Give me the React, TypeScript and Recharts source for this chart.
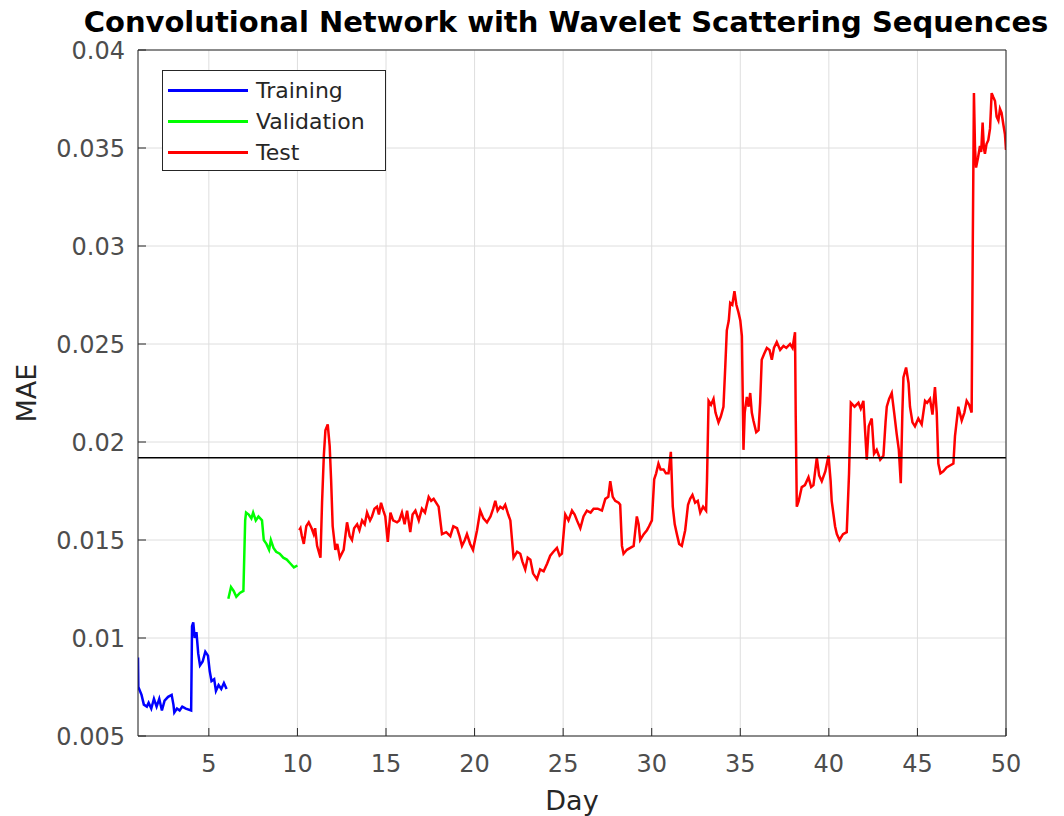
import { LineChart, Line, XAxis, YAxis, CartesianGrid, ReferenceLine, Label } from 'recharts';

// [day, MAE] pairs
const training: [number, number][] = [
  [1.0, 0.009], [1.02, 0.0075], [1.2, 0.0071], [1.33, 0.0066], [1.5, 0.0065], [1.6, 0.0067],
  [1.75, 0.0064], [1.9, 0.0069], [2.05, 0.0065], [2.2, 0.0069], [2.35, 0.0063], [2.5, 0.0068],
  [2.7, 0.007], [2.9, 0.0071], [3.0, 0.0066], [3.05, 0.0062], [3.2, 0.0064], [3.35, 0.0063],
  [3.5, 0.0065], [3.7, 0.0064], [4.0, 0.0063], [4.05, 0.0106], [4.12, 0.0108], [4.2, 0.01],
  [4.3, 0.0103], [4.4, 0.0092], [4.5, 0.0086], [4.65, 0.0088], [4.8, 0.0093], [4.95, 0.0091],
  [5.05, 0.0083], [5.15, 0.0078], [5.3, 0.0079], [5.4, 0.0073], [5.55, 0.0076], [5.7, 0.0074],
  [5.85, 0.0077], [6.0, 0.0074],
];

const validation: [number, number][] = [
  [6.1, 0.012], [6.25, 0.0126], [6.4, 0.0124], [6.55, 0.0121], [6.75, 0.0123], [6.95, 0.0124],
  [7.05, 0.016], [7.1, 0.0164], [7.25, 0.0163], [7.4, 0.0161], [7.5, 0.0164], [7.65, 0.016],
  [7.8, 0.0162], [8.0, 0.016], [8.1, 0.015], [8.25, 0.0148], [8.4, 0.0145], [8.5, 0.015],
  [8.65, 0.0146], [8.8, 0.0144], [9.0, 0.0143], [9.2, 0.0141], [9.4, 0.014], [9.6, 0.0138],
  [9.8, 0.0136], [10.0, 0.0137],
];

const test: [number, number][] = [
  [10.1, 0.0155], [10.17, 0.0156], [10.25, 0.0152], [10.36, 0.0148], [10.5, 0.0157], [10.64, 0.0159],
  [10.8, 0.0156], [10.92, 0.0153], [11.0, 0.0156], [11.11, 0.0147], [11.3, 0.0141], [11.39, 0.0169],
  [11.49, 0.0193], [11.58, 0.0206], [11.71, 0.0209], [11.82, 0.0198], [11.9, 0.0181], [11.99, 0.0157],
  [12.14, 0.0145], [12.25, 0.0148], [12.39, 0.0141], [12.61, 0.0145], [12.8, 0.0159], [12.95, 0.0152],
  [13.08, 0.015], [13.2, 0.0156], [13.37, 0.0158], [13.5, 0.0155], [13.65, 0.016], [13.8, 0.0158],
  [13.93, 0.0164], [14.1, 0.016], [14.21, 0.0162], [14.35, 0.0166], [14.49, 0.0167], [14.6, 0.0163],
  [14.72, 0.0169], [14.85, 0.0165], [14.96, 0.0162], [15.1, 0.0149], [15.25, 0.0164], [15.4, 0.016],
  [15.62, 0.0159], [15.75, 0.016], [15.9, 0.0164], [16.05, 0.0158], [16.19, 0.0165], [16.37, 0.0154],
  [16.5, 0.0163], [16.66, 0.0165], [16.85, 0.016], [17.03, 0.0166], [17.2, 0.0164], [17.41, 0.0172],
  [17.55, 0.017], [17.69, 0.0171], [17.97, 0.0167], [18.16, 0.0153], [18.4, 0.0154], [18.63, 0.0152],
  [18.8, 0.0157], [19.01, 0.0156], [19.15, 0.0152], [19.29, 0.0147], [19.45, 0.015], [19.57, 0.0153],
  [19.75, 0.0148], [19.91, 0.0145], [20.14, 0.0155], [20.32, 0.0165], [20.5, 0.0161], [20.7, 0.0159],
  [20.9, 0.0162], [21.05, 0.0166], [21.17, 0.017], [21.3, 0.0165], [21.45, 0.0167], [21.6, 0.0166],
  [21.73, 0.0168], [21.9, 0.0163], [22.02, 0.016], [22.2, 0.0141], [22.4, 0.0144], [22.58, 0.0143],
  [22.7, 0.0139], [22.86, 0.0135], [23.0, 0.0141], [23.15, 0.014], [23.3, 0.0133], [23.52, 0.013],
  [23.7, 0.0135], [23.9, 0.0134], [24.1, 0.0138], [24.27, 0.0142], [24.45, 0.0144], [24.65, 0.0146],
  [24.8, 0.0142], [24.93, 0.0143], [25.12, 0.0163], [25.3, 0.016], [25.5, 0.0165], [25.65, 0.0163],
  [25.78, 0.016], [25.97, 0.0156], [26.15, 0.0162], [26.34, 0.0165], [26.55, 0.0164], [26.72, 0.0166],
  [26.95, 0.0166], [27.19, 0.0165], [27.38, 0.0171], [27.55, 0.0172], [27.66, 0.018], [27.8, 0.0172],
  [27.94, 0.017], [28.13, 0.0169], [28.22, 0.0168], [28.32, 0.0147], [28.41, 0.0143], [28.6, 0.0145],
  [28.79, 0.0146], [28.98, 0.0147], [29.16, 0.0162], [29.26, 0.0158], [29.35, 0.015], [29.55, 0.0153],
  [29.73, 0.0155], [29.85, 0.0157], [30.01, 0.016], [30.14, 0.0181], [30.25, 0.0184], [30.38, 0.0189],
  [30.5, 0.0186], [30.67, 0.0186], [30.8, 0.0184], [30.95, 0.0184], [31.08, 0.0195], [31.19, 0.0167],
  [31.3, 0.0158], [31.42, 0.0153], [31.55, 0.0148], [31.7, 0.0147], [31.89, 0.0155], [32.05, 0.0168],
  [32.17, 0.0171], [32.3, 0.0173], [32.45, 0.0169], [32.6, 0.017], [32.74, 0.0164], [32.9, 0.0167],
  [33.07, 0.0165], [33.12, 0.018], [33.21, 0.0221], [33.35, 0.0219], [33.49, 0.0222], [33.6, 0.0215],
  [33.77, 0.021], [33.9, 0.0213], [34.05, 0.0218], [34.15, 0.0238], [34.24, 0.0257], [34.35, 0.0262],
  [34.43, 0.0271], [34.55, 0.027], [34.67, 0.0277], [34.78, 0.027], [34.9, 0.0266], [35.0, 0.0262],
  [35.09, 0.0254], [35.18, 0.0196], [35.25, 0.0215], [35.37, 0.0223], [35.47, 0.0218], [35.56, 0.0225],
  [35.65, 0.0215], [35.74, 0.0211], [35.9, 0.0205], [36.03, 0.0206], [36.12, 0.022], [36.21, 0.0242],
  [36.35, 0.0245], [36.5, 0.0248], [36.65, 0.0247], [36.78, 0.0242], [36.9, 0.0248], [37.06, 0.0251],
  [37.25, 0.0247], [37.44, 0.0249], [37.6, 0.0248], [37.81, 0.025], [37.95, 0.0248], [38.09, 0.0256],
  [38.13, 0.0213], [38.19, 0.0167], [38.3, 0.017], [38.47, 0.0177], [38.65, 0.0178], [38.85, 0.0182],
  [39.0, 0.0177], [39.13, 0.0178], [39.32, 0.0192], [39.45, 0.0183], [39.6, 0.018], [39.8, 0.0185],
  [39.98, 0.0193], [40.1, 0.018], [40.16, 0.017], [40.35, 0.0157], [40.45, 0.0153], [40.6, 0.015],
  [40.8, 0.0153], [41.01, 0.0154], [41.14, 0.0184], [41.24, 0.022], [41.45, 0.0218], [41.67, 0.022],
  [41.8, 0.0217], [41.95, 0.0221], [42.05, 0.0205], [42.14, 0.0191], [42.25, 0.0208], [42.42, 0.0212],
  [42.55, 0.0194], [42.7, 0.0196], [42.9, 0.0191], [43.08, 0.0193], [43.2, 0.021], [43.27, 0.0218],
  [43.4, 0.0222], [43.55, 0.0225], [43.7, 0.0214], [43.83, 0.0204], [43.95, 0.0196], [44.06, 0.0179],
  [44.15, 0.0215], [44.21, 0.0233], [44.36, 0.0238], [44.5, 0.023], [44.58, 0.0218], [44.72, 0.021],
  [44.86, 0.0208], [45.05, 0.0212], [45.24, 0.0209], [45.43, 0.0221], [45.55, 0.022], [45.71, 0.0222],
  [45.85, 0.0214], [45.99, 0.0228], [46.09, 0.0215], [46.18, 0.0189], [46.3, 0.0184], [46.46, 0.0185],
  [46.65, 0.0187], [46.84, 0.0188], [47.03, 0.0189], [47.12, 0.0203], [47.31, 0.0218], [47.5, 0.0211],
  [47.65, 0.0215], [47.78, 0.0221], [47.92, 0.0219], [48.06, 0.0215], [48.12, 0.0295], [48.19, 0.0378],
  [48.25, 0.035], [48.31, 0.034], [48.42, 0.0345], [48.53, 0.0351], [48.6, 0.0348], [48.68, 0.0363],
  [48.75, 0.035], [48.81, 0.0347], [48.9, 0.0352], [49.0, 0.0354], [49.1, 0.036], [49.19, 0.0378],
  [49.28, 0.0376], [49.38, 0.0374], [49.47, 0.0366], [49.57, 0.0364], [49.66, 0.037], [49.75, 0.0368],
  [49.85, 0.0362], [49.94, 0.0357], [50.0, 0.0349],
];

const threshold = 0.0192;
const xTicks = [5, 10, 15, 20, 25, 30, 35, 40, 45, 50];
const yTicks = [0.005, 0.01, 0.015, 0.02, 0.025, 0.03, 0.035, 0.04];
const yTickLabels = ['0.005', '0.01', '0.015', '0.02', '0.025', '0.03', '0.035', '0.04'];

const series = [
  { name: 'Training', color: '#0000ff', points: training },
  { name: 'Validation', color: '#00ff00', points: validation },
  { name: 'Test', color: '#ff0000', points: test },
];

const font = '"DejaVu Sans", sans-serif';
const axisColor = '#262626';
const tickStyle = { fill: '#4d4d4d', fontSize: 24, fontFamily: font };

const toRows = (pts: [number, number][]) => pts.map(([day, mae]) => ({ day, mae }));

function LegendBox() {
  return (
    <div
      style={{
        position: 'absolute',
        left: 162,
        top: 70,
        zIndex: 2,
        border: '1.5px solid #262626',
        background: '#fff',
        width: 222,
        padding: '4px 0 2px 0',
        fontFamily: font,
        fontSize: 22,
        color: '#262626',
      }}
    >
      {series.map((s) => (
        <div key={s.name} style={{ display: 'flex', alignItems: 'center', height: 31 }}>
          <div style={{ width: 80, height: 3, background: s.color, marginLeft: 5, marginRight: 8 }} />
          <span>{s.name}</span>
        </div>
      ))}
    </div>
  );
}

export default function App() {
  return (
    <div style={{ position: 'absolute', left: 0, top: 0, width: 1064, height: 816, background: '#fff' }}>
      <div
        style={{
          position: 'absolute',
          left: 0,
          width: 1132,
          top: 9,
          height: 26,
          lineHeight: '26px',
          textAlign: 'center',
          fontFamily: font,
          fontWeight: 'bold',
          fontSize: 29,
          color: '#000',
          whiteSpace: 'nowrap',
          zIndex: 2,
        }}
      >
        Convolutional Network with Wavelet Scattering Sequences
      </div>
      <LegendBox />
      <LineChart width={1064} height={816} margin={{ top: 20, right: 0, bottom: 0, left: 0 }}>
        <CartesianGrid xAxisId="bottom" yAxisId="left" stroke="#dedede" strokeWidth={1} />
        <XAxis
          xAxisId="bottom"
          type="number"
          dataKey="day"
          domain={[1, 50]}
          ticks={xTicks}
          allowDataOverflow
          height={80}
          stroke={axisColor}
          tickSize={-8}
          tickMargin={27}
          tick={tickStyle}
        >
          <Label
            content={() => (
              <text x={572} y={810} textAnchor="middle" fill="#262626" fontSize={27} fontFamily={font}>
                Day
              </text>
            )}
          />
        </XAxis>
        <XAxis
          xAxisId="top"
          orientation="top"
          type="number"
          dataKey="day"
          domain={[1, 50]}
          ticks={xTicks}
          height={30}
          stroke={axisColor}
          tickSize={-8}
          tickFormatter={() => ''}
        />
        <YAxis
          yAxisId="left"
          type="number"
          domain={[0.005, 0.04]}
          ticks={yTicks}
          allowDataOverflow
          width={138}
          stroke={axisColor}
          tickSize={-8}
          tickMargin={21}
          tick={tickStyle}
          tickFormatter={(v: number) => yTickLabels[yTicks.indexOf(v)] ?? String(v)}
        >
          <Label
            content={() => (
              <text
                x={36}
                y={393}
                transform="rotate(-90 36 393)"
                textAnchor="middle"
                fill="#262626"
                fontSize={27}
                fontFamily={font}
              >
                MAE
              </text>
            )}
          />
        </YAxis>
        <YAxis
          yAxisId="right"
          orientation="right"
          type="number"
          domain={[0.005, 0.04]}
          ticks={yTicks}
          width={58}
          stroke={axisColor}
          tickSize={-8}
          tickFormatter={() => ''}
        />
        {series.map((s) => (
          <Line
            key={s.name}
            xAxisId="bottom"
            yAxisId="left"
            data={toRows(s.points)}
            dataKey="mae"
            name={s.name}
            type="linear"
            stroke={s.color}
            strokeWidth={2.5}
            dot={false}
            activeDot={false}
            isAnimationActive={false}
          />
        ))}
        <ReferenceLine xAxisId="bottom" yAxisId="left" y={threshold} stroke="#000" strokeWidth={1.5} />
      </LineChart>
    </div>
  );
}
